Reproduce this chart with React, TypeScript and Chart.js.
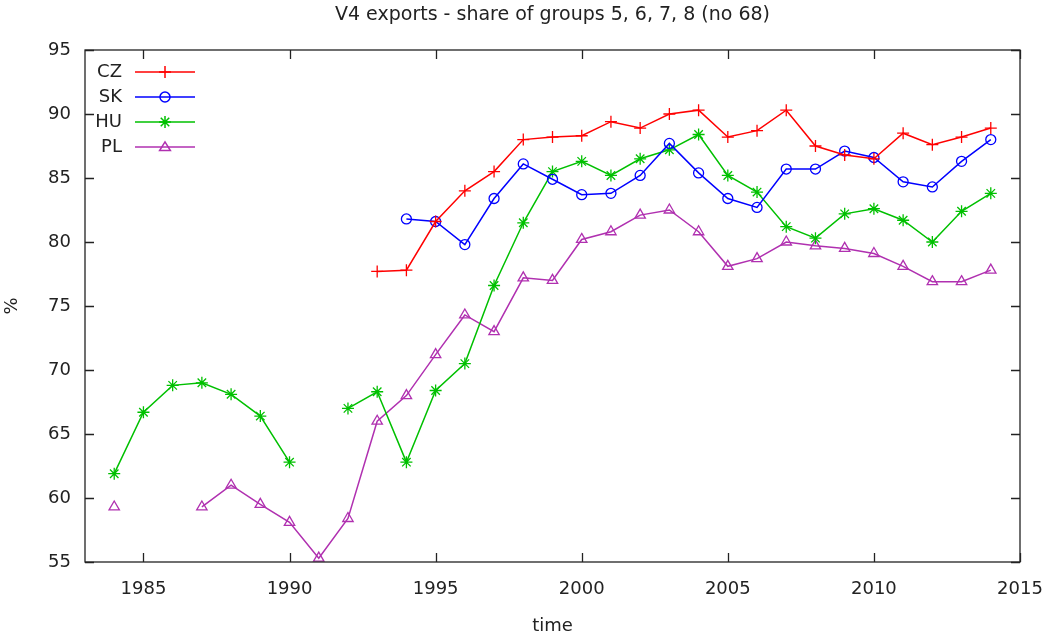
import { useEffect, useRef } from "react";
import { Chart, registerables } from "chart.js";
Chart.register(...registerables);

const titleText = "V4 exports - share of groups 5, 6, 7, 8 (no 68)";
const xTitle = "time";
const yTitle = "%";

const years = [1984, 1985, 1986, 1987, 1988, 1989, 1990, 1991, 1992, 1993, 1994, 1995, 1996, 1997, 1998, 1999, 2000, 2001, 2002, 2003, 2004, 2005, 2006, 2007, 2008, 2009, 2010, 2011, 2012, 2013, 2014];
const xTicks = [1985, 1990, 1995, 2000, 2005, 2010, 2015];
const yTicks = [55, 60, 65, 70, 75, 80, 85, 90, 95];

const cz = [null, null, null, null, null, null, null, null, null, 77.7, 77.8, 81.6, 84.0, 85.5, 88.0, 88.2, 88.3, 89.4, 88.9, 90.0, 90.3, 88.2, 88.7, 90.3, 87.5, 86.8, 86.5, 88.5, 87.6, 88.2, 88.9];
const sk = [null, null, null, null, null, null, null, null, null, null, 81.8, 81.6, 79.8, 83.4, 86.1, 84.9, 83.7, 83.8, 85.2, 87.7, 85.4, 83.4, 82.7, 85.7, 85.7, 87.1, 86.6, 84.7, 84.3, 86.3, 88.0];
const hu = [61.9, 66.7, 68.8, 69.0, 68.1, 66.4, 62.8, null, 67.0, 68.3, 62.8, 68.4, 70.5, 76.6, 81.5, 85.5, 86.3, 85.2, 86.5, 87.2, 88.4, 85.2, 83.9, 81.2, 80.3, 82.2, 82.6, 81.7, 80.0, 82.4, 83.8];
const pl = [59.3, null, null, 59.3, 61.0, 59.5, 58.1, 55.3, 58.4, 66.0, 68.0, 71.2, 74.3, 73.0, 77.2, 77.0, 80.2, 80.8, 82.1, 82.5, 80.8, 78.1, 78.7, 80.0, 79.7, 79.5, 79.1, 78.1, 76.9, 76.9, 77.8];

const seriesNames = ["CZ", "SK", "HU", "PL"];
const seriesValues = [cz, sk, hu, pl];
const seriesColors = ["#ff0000", "#0000ff", "#00c000", "#b030b0"];
const seriesMarkers = ["cross", "circle", "star", "triangle"];
const markerRadius = [6, 5, 6, 6];

const FONT = "DejaVu Sans";

function drawMarker(ctx: CanvasRenderingContext2D, style: string, x: number, y: number, r: number) {
  ctx.beginPath();
  if (style === "cross") {
    ctx.moveTo(x - r, y); ctx.lineTo(x + r, y);
    ctx.moveTo(x, y - r); ctx.lineTo(x, y + r);
  } else if (style === "circle") {
    ctx.arc(x, y, r, 0, Math.PI * 2);
  } else if (style === "star") {
    ctx.moveTo(x - r, y); ctx.lineTo(x + r, y);
    ctx.moveTo(x, y - r); ctx.lineTo(x, y + r);
    const d = r * 0.707;
    ctx.moveTo(x - d, y - d); ctx.lineTo(x + d, y + d);
    ctx.moveTo(x - d, y + d); ctx.lineTo(x + d, y - d);
  } else if (style === "triangle") {
    const h = r * 0.85;
    ctx.moveTo(x, y - h);
    ctx.lineTo(x + r * 0.9, y + h * 0.7);
    ctx.lineTo(x - r * 0.9, y + h * 0.7);
    ctx.closePath();
  }
  ctx.stroke();
}

const framePlugin = {
  id: "frame",
  afterDatasetsDraw(chart: any) {
    const { ctx, chartArea } = chart;
    const { left, right, top, bottom } = chartArea;
    const xs = chart.scales.x;
    const ys = chart.scales.y;
    const tl = 9;
    ctx.save();
    ctx.strokeStyle = "#222";
    ctx.lineWidth = 1.3;
    ctx.strokeRect(left, top, right - left, bottom - top);
    ctx.beginPath();
    for (const v of xTicks) {
      const px = Math.round(xs.getPixelForValue(v)) + 0.5;
      ctx.moveTo(px, bottom); ctx.lineTo(px, bottom - tl);
      ctx.moveTo(px, top); ctx.lineTo(px, top + tl);
    }
    for (const v of yTicks) {
      const py = Math.round(ys.getPixelForValue(v)) + 0.5;
      ctx.moveTo(left, py); ctx.lineTo(left + tl, py);
      ctx.moveTo(right, py); ctx.lineTo(right - tl, py);
    }
    ctx.stroke();

    // legend
    ctx.font = `18px '${FONT}'`;
    ctx.textBaseline = "middle";
    ctx.textAlign = "right";
    seriesNames.forEach((name, i) => {
      const y = 72 + i * 25;
      ctx.fillStyle = "#222";
      ctx.fillText(name, 122, y);
      ctx.strokeStyle = seriesColors[i];
      ctx.lineWidth = 1.5;
      ctx.beginPath();
      ctx.moveTo(135, y); ctx.lineTo(195, y);
      ctx.stroke();
      drawMarker(ctx, seriesMarkers[i], 165, y, markerRadius[i]);
    });

    // titles
    ctx.fillStyle = "#222";
    ctx.textAlign = "center";
    ctx.textBaseline = "middle";
    ctx.font = `19px '${FONT}'`;
    ctx.fillText(titleText, (left + right) / 2, 15);
    ctx.font = `18px '${FONT}'`;
    ctx.fillText(xTitle, (left + right) / 2, 626);
    ctx.save();
    ctx.translate(12, (top + bottom) / 2);
    ctx.rotate(-Math.PI / 2);
    ctx.fillText(yTitle, 0, 0);
    ctx.restore();
    ctx.restore();
  },
};

export default function App() {
  const ref = useRef<HTMLCanvasElement>(null);
  useEffect(() => {
    if (!ref.current) return;
    const chart = new Chart(ref.current, {
      type: "line",
      data: {
        datasets: seriesNames.map((name, i) => ({
          label: name,
          data: years.map((x, j) => ({ x, y: seriesValues[i][j] })),
          borderColor: seriesColors[i],
          backgroundColor: "transparent",
          borderWidth: 1.5,
          pointStyle: seriesMarkers[i] as any,
          pointRadius: markerRadius[i],
          pointBorderWidth: 1.3,
          pointBorderColor: seriesColors[i],
          pointBackgroundColor: "rgba(0,0,0,0)",
          spanGaps: false,
          tension: 0,
          fill: false,
        })),
      },
      options: {
        animation: false,
        responsive: true,
        maintainAspectRatio: false,
        layout: { padding: { top: 50, right: 26, left: 0, bottom: 0 } },
        plugins: {
          legend: { display: false },
          title: { display: false },
          tooltip: { enabled: false },
        },
        scales: {
          x: {
            type: "linear",
            min: 1983,
            max: 2015,
            grid: { display: false, drawTicks: false },
            border: { display: false },
            afterBuildTicks: (s: any) => { s.ticks = xTicks.map((v) => ({ value: v })); },
            afterFit: (s: any) => { s.height = 76; s.paddingLeft = 0; s.paddingRight = 0; },
            ticks: {
              padding: 17,
              color: "#222",
              font: { family: FONT, size: 18 },
              callback: (v: any) => String(v),
              maxRotation: 0,
              autoSkip: false,
            },
          },
          y: {
            type: "linear",
            min: 55,
            max: 95,
            grid: { display: false, drawTicks: false },
            border: { display: false },
            afterBuildTicks: (s: any) => { s.ticks = yTicks.map((v) => ({ value: v })); },
            afterFit: (s: any) => { s.width = 85; s.paddingTop = 0; s.paddingBottom = 0; },
            ticks: {
              padding: 14,
              color: "#222",
              font: { family: FONT, size: 18 },
              callback: (v: any) => String(v),
            },
          },
        },
      },
      plugins: [framePlugin],
    });
    return () => chart.destroy();
  }, []);
  return (
    <div style={{ position: "absolute", left: 0, top: 0, width: 1046, height: 638, background: "#fff" }}>
      <canvas ref={ref} />
    </div>
  );
}
